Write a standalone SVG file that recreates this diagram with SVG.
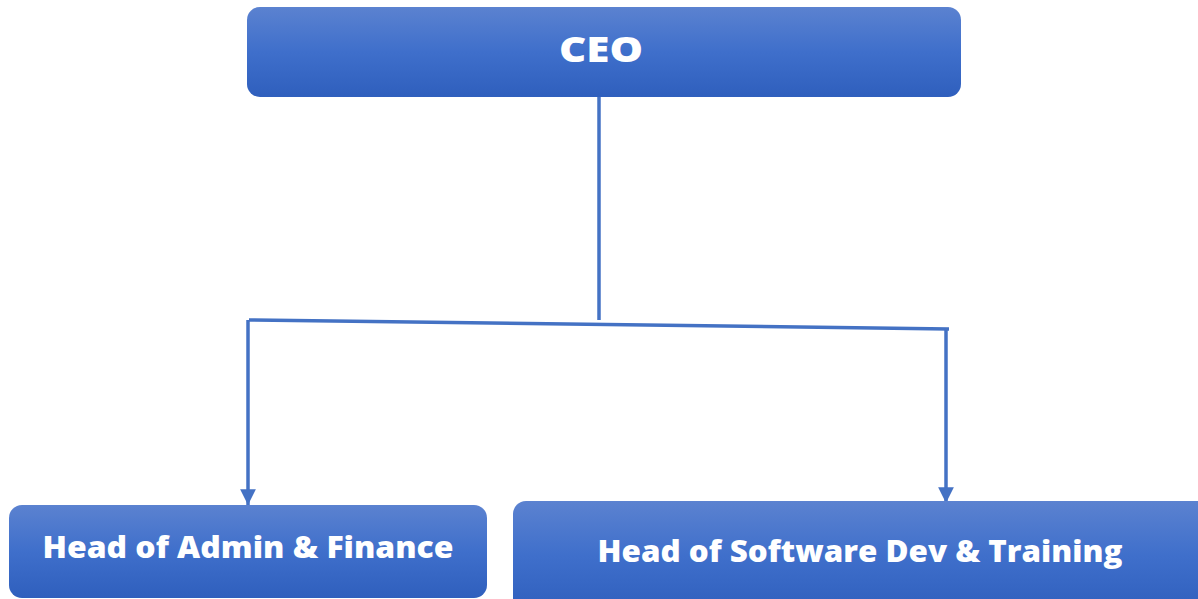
<svg xmlns="http://www.w3.org/2000/svg" width="1198" height="599" viewBox="0 0 1198 599">
<defs>
<linearGradient id="g" x1="0" y1="0" x2="0" y2="1">
<stop offset="0" stop-color="#5b82d0"/>
<stop offset="0.5" stop-color="#3f6fcb"/>
<stop offset="1" stop-color="#2f5fbd"/>
</linearGradient>
<marker id="arr" viewBox="0 0 10 10" refX="10" refY="5" markerWidth="4.5" markerHeight="4.5" orient="auto" markerUnits="strokeWidth">
<path d="M0,0 L10,5 L0,10 Z" fill="#4472c4"/>
</marker>
<style>
.box{fill:url(#g);}
.lbl{font-family:"Open Sans","Liberation Sans",sans-serif;font-weight:800;fill:#ffffff;text-anchor:middle;}
.c{stroke:#4472c4;stroke-width:3.5;fill:none;}
</style>
</defs>
<g id="connectors">
<line class="c" x1="599" y1="97" x2="599" y2="320"/>
<line class="c" x1="249" y1="320" x2="949" y2="329"/>
<line class="c" x1="248" y1="320" x2="248" y2="505" marker-end="url(#arr)"/>
<line class="c" x1="946" y1="329" x2="946" y2="503" marker-end="url(#arr)"/>
</g>
<g id="ceo">
<rect class="box" x="247" y="7" width="714" height="90" rx="13"/>
<text class="lbl" x="601" y="62" font-size="36" textLength="84" lengthAdjust="spacingAndGlyphs">CEO</text>
</g>
<g id="admin">
<rect class="box" x="9" y="505" width="478" height="93" rx="13"/>
<text class="lbl" x="248" y="558" font-size="30" textLength="411" lengthAdjust="spacingAndGlyphs">Head of Admin &amp; Finance</text>
</g>
<g id="software">
<rect class="box" x="513" y="501" width="700" height="110" rx="13"/>
<text class="lbl" x="860" y="562" font-size="30" textLength="525" lengthAdjust="spacingAndGlyphs">Head of Software Dev &amp; Training</text>
</g>
</svg>
